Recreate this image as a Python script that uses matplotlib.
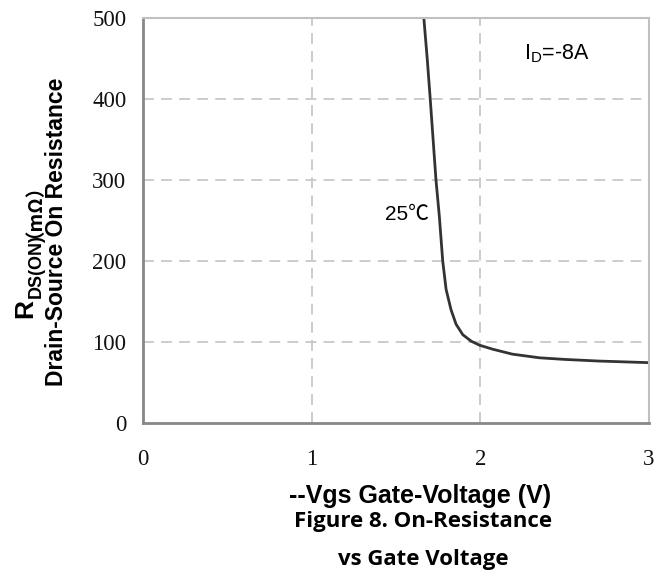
import matplotlib
matplotlib.use("Agg")
import matplotlib.pyplot as plt

plt.rcParams['mathtext.fontset'] = 'custom'
plt.rcParams['mathtext.rm'] = 'Liberation Sans'

# data (25 C, ID = -8A)
vgs = [1.665, 1.685, 1.703, 1.72, 1.737, 1.757, 1.777, 1.797, 1.826, 1.856,
       1.896, 1.946, 1.996, 2.075, 2.19, 2.35, 2.5, 2.7, 2.85, 3.0]
rds = [500, 450, 400, 350, 300, 255, 200, 165, 140, 122,
       109, 101, 96, 91, 85, 80.5, 78.5, 76.5, 75.5, 74.5]

x_ticks = [0, 1, 2, 3]
y_ticks = [0, 100, 200, 300, 400, 500]

W, H = 668, 574
fig = plt.figure(figsize=(W / 100, H / 100), dpi=100)
ax = fig.add_axes([143 / W, 1 - 423 / H, (649 - 143) / W, (423 - 18) / H])

ax.plot(vgs, rds, color='#333333', lw=2, solid_capstyle='butt')
ax.set_xlim(0, 3)
ax.set_ylim(0, 500)
ax.set_xticks(x_ticks)
ax.set_yticks(y_ticks)

# dashed grid, only inside
for v in x_ticks[1:-1]:
    ax.axvline(v, color='#c8c8c8', lw=1.3, ls=(0, (6, 4)), zorder=0)
for v in y_ticks[1:-1]:
    ax.axhline(v, color='#c8c8c8', lw=1.3, ls=(0, (6, 4)), zorder=0)

for s in ['left', 'bottom']:
    ax.spines[s].set_color('#888888')
    ax.spines[s].set_linewidth(2)
for s in ['top', 'right']:
    ax.spines[s].set_color('#c0c0c0')
    ax.spines[s].set_linewidth(1.5)

ax.tick_params(length=0, labelsize=16.5)
ax.tick_params(axis='y', pad=12)
ax.tick_params(axis='x', pad=19)
for lab in ax.get_xticklabels() + ax.get_yticklabels():
    lab.set_fontfamily('Liberation Serif')
    lab.set_color('#111111')

ax.text(2.26, 456, r'I$_\mathrm{D}$=-8A', fontsize=15.5, fontfamily='Liberation Sans',
        ha='left', va='center')
ax.text(1.695, 258, '25℃', fontsize=15, fontfamily=['Liberation Sans', 'Noto Sans CJK SC'],
        ha='right', va='center')

# y label: "R" + subscript "DS(ON)" + "（mΩ）", then second line
rot = dict(rotation=90, rotation_mode='anchor', fontweight='bold', ha='left', va='baseline')
fig.text(32 / W, 1 - 318 / H, 'R', fontsize=19, fontfamily='Liberation Sans', **rot)
fig.text(41 / W, 1 - 298 / H, 'DS(ON)', fontsize=13, fontfamily='Liberation Sans', **rot)
fig.text(30 / W, 1 - 238 / H, '（mΩ）', fontsize=14, fontfamily='Noto Sans CJK KR', **rot)
fig.text(63 / W, 1 - 232 / H, 'Drain-Source On Resistance', rotation=90, rotation_mode='anchor',
         fontsize=16.5, fontweight='bold', fontfamily='Liberation Sans', ha='center', va='baseline')

fig.text(420 / W, 1 - 503 / H, '--Vgs Gate-Voltage (V)', fontsize=18, fontweight='bold',
         fontfamily='Liberation Sans', ha='center', va='baseline')
fig.text(423 / W, 1 - 527 / H, 'Figure 8. On-Resistance', fontsize=16, fontweight='bold',
         fontfamily='Open Sans', ha='center', va='baseline')
fig.text(423 / W, 1 - 565 / H, 'vs Gate Voltage', fontsize=16, fontweight='bold',
         fontfamily='Open Sans', ha='center', va='baseline')

fig.savefig('out.png', dpi=100)
